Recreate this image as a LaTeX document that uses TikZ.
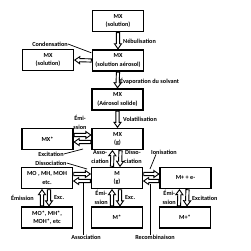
\documentclass[tikz,border=0pt]{standalone}
\usepackage{fontspec}
\setmainfont{Carlito}
\usetikzlibrary{calc}

\tikzset{
  boite/.style={draw, line width=1.1pt, minimum width=51pt, minimum height=21pt,
    inner sep=0pt, outer sep=1.2pt, align=center, font=\bfseries\fontsize{6.2}{8.5}\selectfont},
  etiq/.style={inner sep=0pt, align=center, font=\bfseries\fontsize{6.2}{8.5}\selectfont},
  trait/.style={line width=0.7pt},
  fleche/.style={draw, fill=white, line width=0.9pt, line join=miter,
    to path={
      let \p1=($(\tikztotarget)!5pt!(\tikztostart)$) in
      ($(\tikztostart)!1.6pt!90:(\tikztotarget)$)
      -- ($(\p1)!1.6pt!90:(\tikztotarget)$)
      -- ($(\p1)!3.5pt!90:(\tikztotarget)$)
      -- (\tikztotarget)
      -- ($(\p1)!3.5pt!-90:(\tikztotarget)$)
      -- ($(\p1)!1.6pt!-90:(\tikztotarget)$)
      -- ($(\tikztostart)!1.6pt!-90:(\tikztotarget)$)
      -- cycle}}
}

\begin{document}
\begin{tikzpicture}[x=1pt, y=-1pt]
    \useasboundingbox (0,0) rectangle (250,251);

    % Boites
    \node[boite] (sol) at (118,21) {MX\\(solution)};
    \node[boite] (aero) at (118,60.5) {MX\\(solution aérosol)};
    \node[boite] (cond) at (48,60) {MX\\(solution)};
    \node[boite] (solide) at (117.5,99.5) {MX\\(Aérosol solide)};
    \node[boite] (mxg) at (117.5,139) {MX\\(g)};
    \node[boite] (mxet) at (47.5,139) {MX*};
    \node[boite] (mo) at (47,178) {MO , MH, MOH\\etc.};
    \node[boite] (m) at (117,178) {M\\(g)};
    \node[boite] (mion) at (185.5,178) {M+ + e-};
    \node[boite] (moet) at (47,217.5) {MO*, MH*,\\MOH*, etc};
    \node[boite] (met) at (117,217.5) {M*};
    \node[boite] (mionet) at (185,217.5) {M+*};

    % Etiquettes
    \node[etiq, anchor=west] (lneb) at (123,41.5) {Nébulisation};
    \node[etiq] (lcond) at (50,44) {Condensation};
    \node[etiq, anchor=west] (levap) at (120,81) {Évaporation du solvant};
    \node[etiq, anchor=west] (lvol) at (123,119) {Volatilisation};
    \node[etiq] (lemi) at (80,122.5) {Émi-\\ssion};
    \node[etiq] (lexc) at (51,154) {Excitation};
    \node[etiq] (ldis) at (51,163) {Dissociation};
    \node[etiq, anchor=east] (lasso) at (109,157) {Asso-\\ciation};
    \node[etiq, anchor=west] (ldisso) at (124,157) {Disso-\\ciation};
    \node[etiq] (lion) at (164,152) {Ionisation};
    \node[etiq, anchor=east] (lemi1) at (34,198) {Émission};
    \node[etiq, anchor=west] (lexc1) at (54,198) {Exc.};
    \node[etiq, anchor=east] (lemi2) at (108,197.5) {Émi-\\ssion};
    \node[etiq, anchor=west] (lexc2) at (125,198) {Exc.};
    \node[etiq, anchor=east] (lemi3) at (176,197.5) {Émi-\\ssion};
    \node[etiq, anchor=west] (lexc3) at (192,198) {Excitation};
    \node[etiq] (lassoc) at (86,237.5) {Association};
    \node[etiq] (lrec) at (155,237.5) {Recombinaison};

    % Fleches
    \draw[fleche] (sol.south) to (aero.north);
    \draw[fleche] (aero.west) to (cond.east);
    \draw[fleche] (aero.south) to (solide.north);
    \draw[fleche] (solide.south) to (mxg.north);
    \draw[fleche] ([yshift=4pt]mxet.east) to ([yshift=4pt]mxg.west);
    \draw[fleche] ([yshift=-3pt]mxg.west) to ([yshift=-3pt]mxet.east);
    \draw[fleche] ([xshift=-5pt]m.north) to ([xshift=-5pt]mxg.south);
    \draw[fleche] ([xshift=3pt]mxg.south) to ([xshift=3pt]m.north);
    \draw[fleche] ([yshift=4pt]mo.east) to ([yshift=4pt]m.west);
    \draw[fleche] ([yshift=-3pt]m.west) to ([yshift=-3pt]mo.east);
    \draw[fleche] ([yshift=4pt]m.east) to ([yshift=4pt]mion.west);
    \draw[fleche] ([yshift=-3pt]mion.west) to ([yshift=-3pt]m.east);
    \draw[fleche] ([xshift=-5pt]moet.north) to ([xshift=-5pt]mo.south);
    \draw[fleche] ([xshift=2pt]mo.south) to ([xshift=2pt]moet.north);
    \draw[fleche] ([xshift=-5pt]met.north) to ([xshift=-5pt]m.south);
    \draw[fleche] ([xshift=3pt]m.south) to ([xshift=3pt]met.north);
    \draw[fleche] ([xshift=-6pt]mionet.north) to ([xshift=-6pt]mion.south);
    \draw[fleche] ([xshift=2pt]mion.south) to ([xshift=2pt]mionet.north);

    % Traits de renvoi
    \coordinate (pexc) at (83,149);
    \coordinate (pdis) at (87,169);
    \coordinate (pion) at (150,169);
    \coordinate (passoc) at (83,182);
    \coordinate (prec) at (150,184);
    \draw[trait] (lcond.east) -- ([yshift=-4pt]aero.north west);
    \draw[trait] (lexc.east) -- (pexc);
    \draw[trait] (ldis.east) -- (pdis);
    \draw[trait] ([xshift=5pt]lion.south west) -- (pion);
    \draw[trait] (passoc) -- (passoc |- lassoc.north);
    \draw[trait] (prec) -- (prec |- lrec.north);
\end{tikzpicture}
\end{document}
